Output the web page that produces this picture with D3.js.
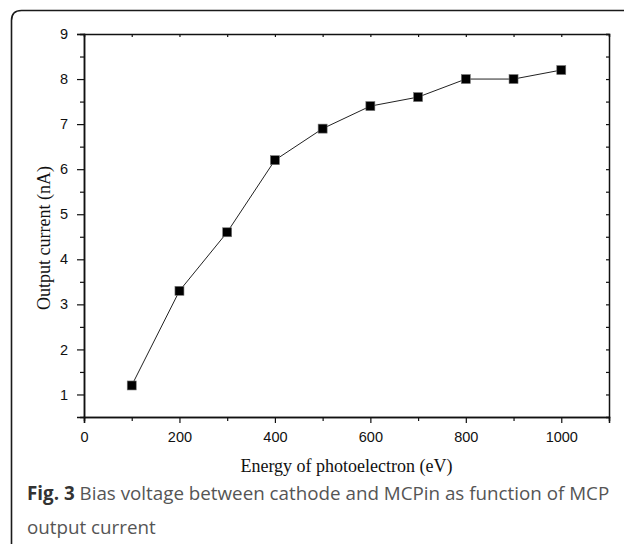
<!DOCTYPE html>
<html><head><meta charset="utf-8">
<script src="https://cdn.jsdelivr.net/npm/d3@7/dist/d3.min.js"></script>
<style>body{margin:0;background:#fff}svg{display:block}</style>
</head><body>
<svg id="c" width="624" height="544"></svg>
<script>
const energy = [100, 200, 300, 400, 500, 600, 700, 800, 900, 1000];
const current = [1.2, 3.3, 4.6, 6.2, 6.9, 7.4, 7.6, 8.0, 8.0, 8.2];
const xTicks = [0, 200, 400, 600, 800, 1000];
const yTicks = [1, 2, 3, 4, 5, 6, 7, 8, 9];
const xTitle = "Energy of photoelectron (eV)";
const yTitle = "Output current (nA)";

const svg = d3.select("#c");
const L = 84, R = 609, T = 34, B = 417;
const x = d3.scaleLinear().domain([0, 1100]).range([L, R]);
const y = d3.scaleLinear().domain([0.5, 9]).range([B, T]);

// frame (left + top, rounded corner)
svg.append("path")
  .attr("d", `M11.5,546 L11.5,20.5 Q11.5,10.5 21.5,10.5 L626,10.5`)
  .attr("fill", "none").attr("stroke", "#1a1a1a").attr("stroke-width", 1.6);

const axisFont = "Liberation Sans, Arial, sans-serif";

// bottom axis
svg.append("g").attr("transform", `translate(0,${B})`)
  .call(d3.axisBottom(x).tickValues(xTicks).tickSize(6).tickPadding(9).tickFormat(d3.format("d")));
svg.append("g").attr("transform", `translate(0,${B})`)
  .call(d3.axisBottom(x).tickValues(d3.range(100, 1100, 200)).tickSize(4).tickFormat(""));
// left axis
svg.append("g").attr("transform", `translate(${L},0)`)
  .call(d3.axisLeft(y).tickValues(yTicks).tickSize(7).tickPadding(9).tickFormat(d3.format("d")));
svg.append("g").attr("transform", `translate(${L},0)`)
  .call(d3.axisLeft(y).tickValues(d3.range(1.5, 9, 1)).tickSize(4).tickFormat(""));
// top axis (ticks inward)
svg.append("g").attr("transform", `translate(0,${T})`)
  .call(d3.axisTop(x).tickValues(d3.range(100, 1100, 100)).tickSize(-3).tickFormat(""));
// right axis (ticks inward)
svg.append("g").attr("transform", `translate(${R},0)`)
  .call(d3.axisRight(y).tickValues(d3.range(1, 9.5, 0.5)).tickSize(-3).tickFormat(""));

svg.selectAll(".domain").attr("stroke", "#111").attr("stroke-width", 1.5);
svg.selectAll(".tick line").attr("stroke", "#111").attr("stroke-width", 1.2);
svg.selectAll(".tick text").attr("font-family", axisFont).attr("font-size", 14.5).attr("fill", "#111");

// line
const line = d3.line().x((d, i) => x(energy[i])).y(d => y(d));
svg.append("path").datum(current).attr("d", line)
  .attr("fill", "none").attr("stroke", "#222").attr("stroke-width", 1);
// markers
svg.selectAll("rect.m").data(current).join("rect").attr("class", "m")
  .attr("x", (d, i) => x(energy[i]) - 4.5).attr("y", d => y(d) - 4.5)
  .attr("width", 9).attr("height", 9).attr("fill", "#000")
  .attr("stroke", "#777").attr("stroke-width", 0.6);

// axis titles
const serif = "Liberation Serif, Times New Roman, serif";
svg.append("text").attr("x", 346.5).attr("y", 472)
  .attr("text-anchor", "middle").attr("font-family", serif).attr("font-size", 18)
  .attr("fill", "#111").text(xTitle);
svg.append("text").attr("transform", `translate(50,238) rotate(-90)`)
  .attr("text-anchor", "middle").attr("font-family", serif).attr("font-size", 18)
  .attr("fill", "#111").text(yTitle);

// caption
const cap = svg.append("text").attr("x", 27).attr("y", 500)
  .attr("font-family", "Open Sans, sans-serif").attr("font-size", 18.8).attr("fill", "#555");
cap.append("tspan").attr("font-weight", "bold").attr("fill", "#333").text("Fig. 3");
cap.append("tspan").text(" Bias voltage between cathode and MCPin as function of MCP");
svg.append("text").attr("x", 27).attr("y", 534)
  .attr("font-family", "Open Sans, sans-serif").attr("font-size", 18.8).attr("fill", "#555")
  .text("output current");
</script>
</body></html>
